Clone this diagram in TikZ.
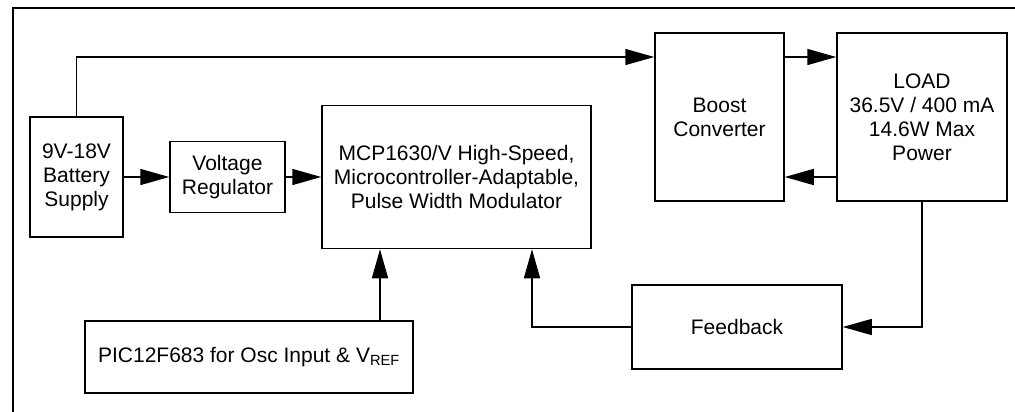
\documentclass[tikz,border=0pt]{standalone}
\usepackage{fontspec}
\setmainfont{Liberation Sans}
\usetikzlibrary{arrows.meta}
\begin{document}
\begin{tikzpicture}[x=1pt,y=-1pt,
  blk/.style={draw,line width=1.5pt,inner sep=0pt,align=center,
    font=\fontsize{21}{24}\selectfont},
  arr/.style={line width=1.5pt,-{Triangle[length=29pt,width=16pt]}},
  wire/.style={line width=1.5pt}]
\useasboundingbox (0,0) rectangle (1015,412);
\draw[wire] (13,412) -- (13,8) -- (1015,8);
\node[blk,minimum width=93pt,minimum height=120pt] (bat) at (76.5,177) {9V-18V\\Battery\\Supply};
\node[blk,minimum width=115pt,minimum height=71pt] (vr) at (227.5,177) {Voltage\\Regulator};
\node[blk,minimum width=269pt,minimum height=143pt] (mcp) at (456.5,177) {MCP1630/V High-Speed,\\Microcontroller-Adaptable,\\Pulse Width Modulator};
\node[blk,minimum width=129pt,minimum height=168pt] (boost) at (719.5,117) {Boost\\Converter};
\node[blk,minimum width=170pt,minimum height=168pt] (load) at (922,117) {LOAD\\36.5V / 400 mA\\14.6W Max\\Power};
\node[blk,minimum width=328pt,minimum height=72pt] (pic) at (249,357) {PIC12F683 for Osc Input \& V\textsubscript{REF}};
\node[blk,minimum width=210pt,minimum height=84pt] (fb) at (737,327) {Feedback};
\draw[arr] (bat.north) |- ([yshift=60pt]boost.west);
\draw[arr] (bat.east) -- (vr.west);
\draw[arr] (vr.east) -- (mcp.west);
\draw[arr] ([yshift=60pt]boost.east) -- ([yshift=60pt]load.west);
\draw[arr] ([yshift=-60pt]load.west) -- ([yshift=-60pt]boost.east);
\draw[arr] ([xshift=131pt]pic.north) -- ([xshift=131pt]pic.north |- mcp.south);
\draw[arr] (load.south) |- (fb.east);
\draw[arr] (fb.west) -| ([xshift=75.5pt]mcp.south);
\end{tikzpicture}
\end{document}
